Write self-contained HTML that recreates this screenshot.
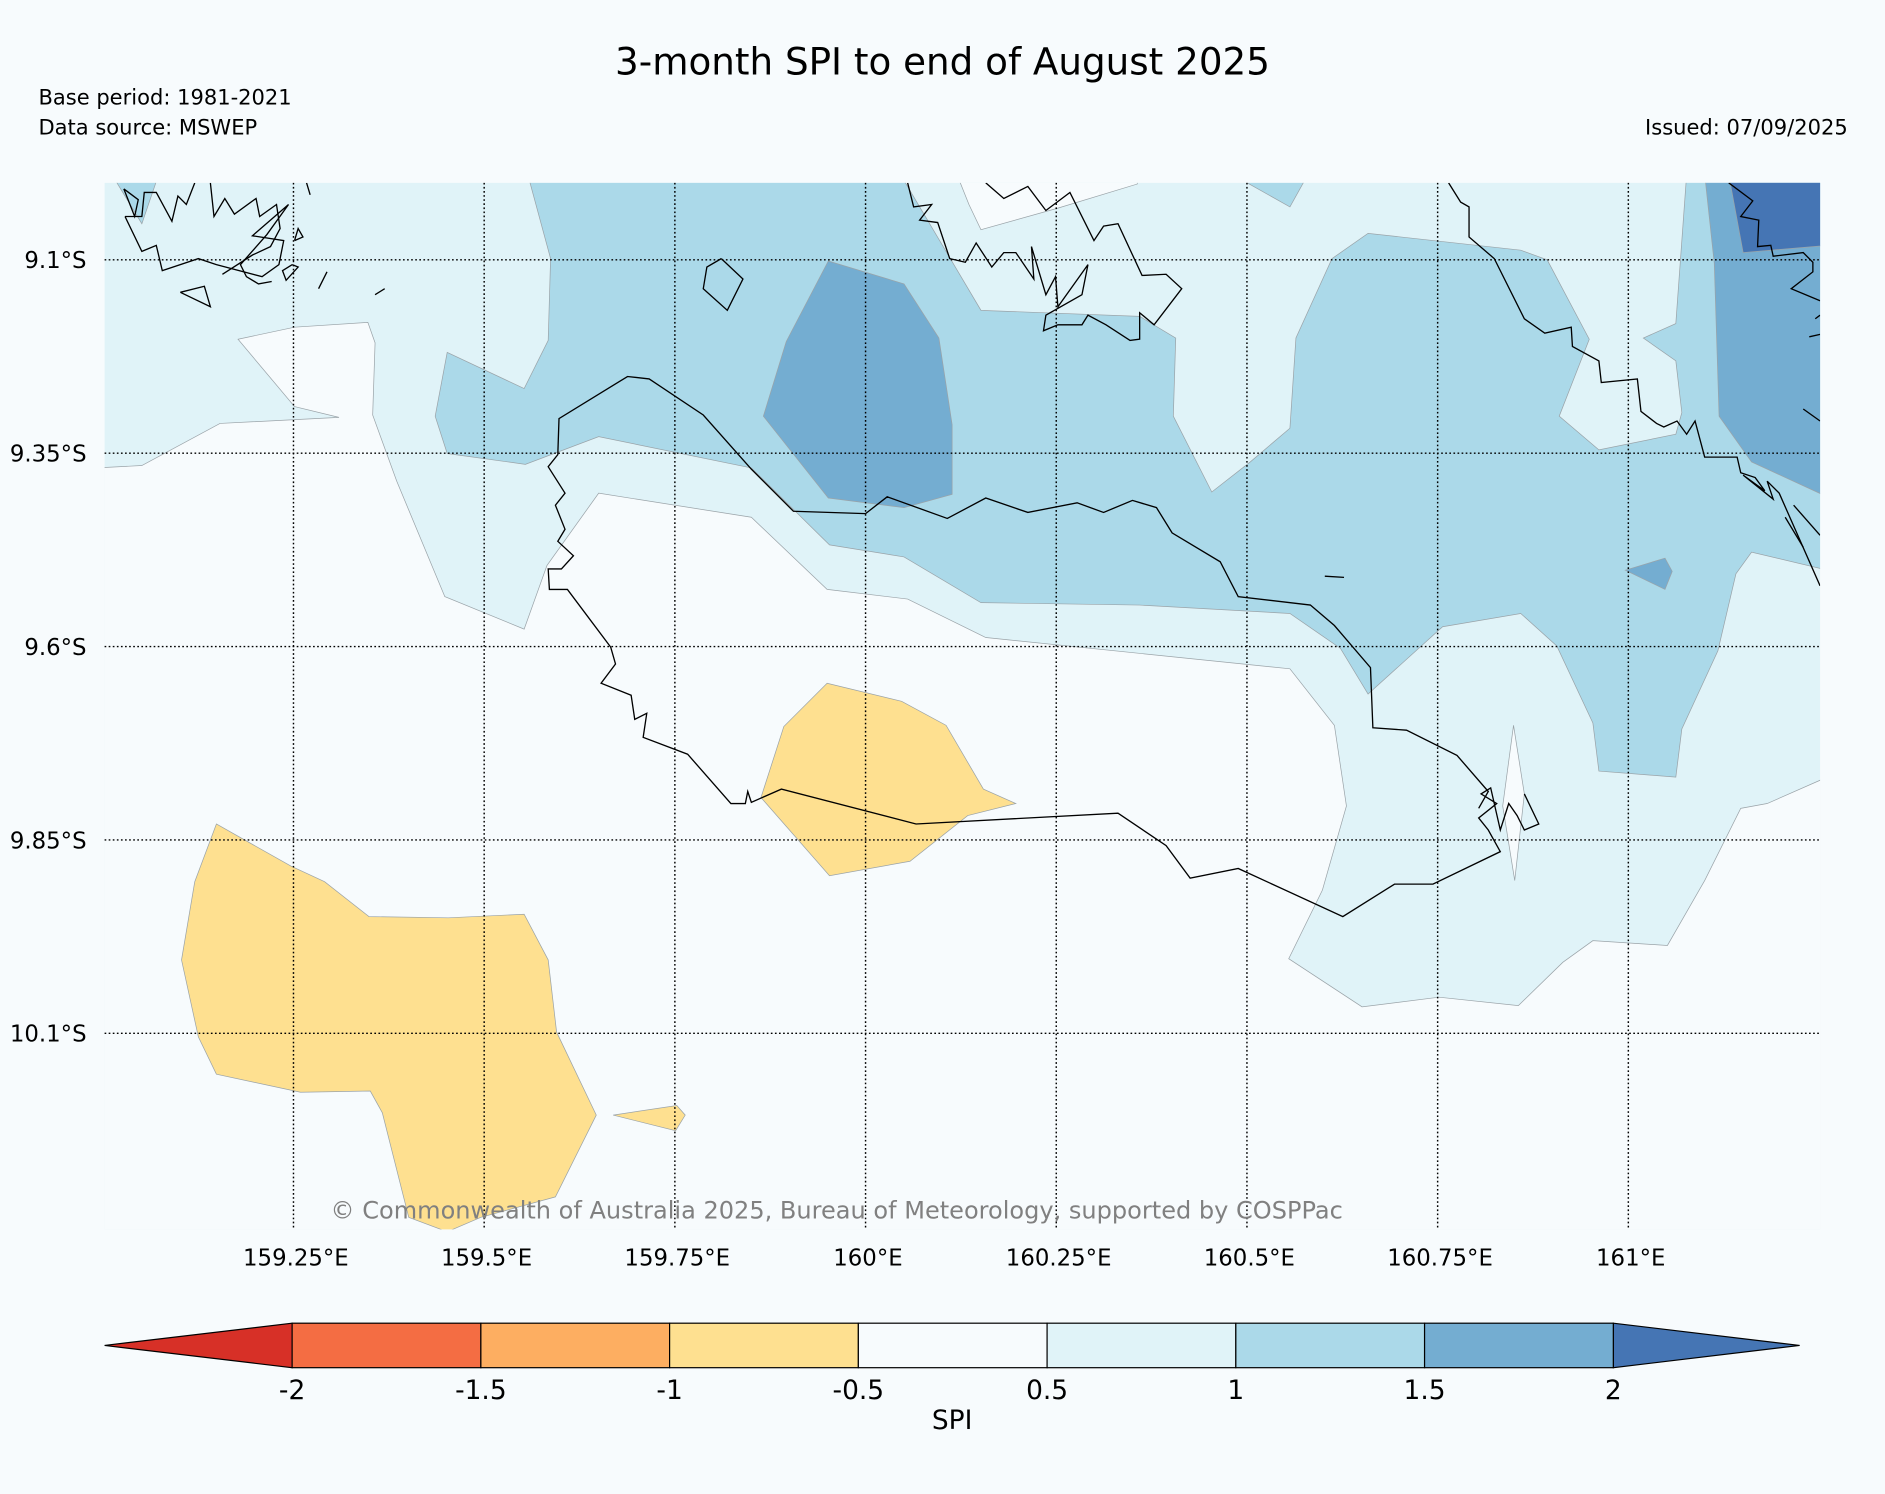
<!DOCTYPE html>
<html><head><meta charset="utf-8"><title>3-month SPI</title>
<style>
html,body{margin:0;padding:0;background:#f7fbfd;}
svg{display:block;font-family:"DejaVu Sans","Liberation Sans",sans-serif;}
</style></head>
<body>
<svg id="chart" width="1885" height="1494" viewBox="0 0 1568 1242" preserveAspectRatio="none" xmlns="http://www.w3.org/2000/svg">
<rect x="0" y="0" width="1568" height="1242" fill="#f7fbfd"/>
<text x="784" y="62" text-anchor="middle" font-size="31" fill="#000">3-month SPI to end of August 2025</text>
<text x="32" y="87" font-size="17.5" fill="#000">Base period: 1981-2021</text>
<text x="32" y="112" font-size="17.5" fill="#000">Data source: MSWEP</text>
<text x="1537" y="112" text-anchor="end" font-size="17.5" fill="#000">Issued: 07/09/2025</text>
<defs><clipPath id="mapclip"><rect x="87" y="152" width="1427" height="870"/></clipPath></defs>
<g id="map" clip-path="url(#mapclip)"></g>
<g id="grid"></g>
<g id="labels"></g>
<text x="696" y="1013" text-anchor="middle" font-size="20" fill="#808080">© Commonwealth of Australia 2025, Bureau of Meteorology, supported by COSPPac</text>
<g id="cbar"></g>
</svg>
<script>
// Colorbar data
const levels = [-2, -1.5, -1, -0.5, 0.5, 1, 1.5, 2];
const levelLabels = ["-2", "-1.5", "-1", "-0.5", "0.5", "1", "1.5", "2"];
const binColors = ["#f46d43", "#fdae61", "#fee090", "#f7fbfd", "#e0f3f8", "#abd9e9", "#74add1"];
const underColor = "#d73027";
const overColor = "#4575b4";
// Graticule data
const lonTicks = [159.25, 159.5, 159.75, 160, 160.25, 160.5, 160.75, 161];
const lonLabels = ["159.25°E", "159.5°E", "159.75°E", "160°E", "160.25°E", "160.5°E", "160.75°E", "161°E"];
const latTicks = [9.1, 9.35, 9.6, 9.85, 10.1];
const latLabels = ["9.1°S", "9.35°S", "9.6°S", "9.85°S", "10.1°S"];

const NS = "http://www.w3.org/2000/svg";
function xLon(lon){ return 720 + (lon - 160) * 634.5; }
function yLat(lat){ return 216 + (lat - 9.1) * 643; }
function mk(tag, attrs, parent){ const e = document.createElementNS(NS, tag); for (const k in attrs) e.setAttribute(k, attrs[k]); parent.appendChild(e); return e; }

const regionsLight = [[[80,145],[1520,145],[1520,1030],[80,1030]]];
const regionsWhite = [
 [[80,389],[118,387],[183,352],[282,347],[245,338],[198,282],[245,272],[306,268],[312,285],[310,345],[330,400],[370,496],[436,523],[455,470],[498,410],[625,430],[688,490],[755,498],[820,530],[1073,556],[1110,603],[1120,670],[1100,740],[1072,797],[1133,837],[1197,829],[1263,836],[1300,800],[1325,782],[1387,786],[1418,732],[1448,672],[1470,668],[1520,646],[1520,1030],[80,1030]],
 [[796,145],[946,145],[946,153],[880,173],[816,191],[806,170]]
];
const regionsMid = [
 [[93,145],[132,145],[118,186]],
 [[1025,145],[1088,145],[1073,172]],
 [[439,145],[749,145],[816,258],[948,263],[978,281],[976,346],[1008,409],[1040,384],[1073,356],[1078,281],[1108,215],[1138,194],[1265,208],[1287,216],[1322,282],[1297,346],[1330,374],[1394,361],[1399,343],[1394,300],[1367,281],[1394,269],[1403,145],[1520,145],[1520,474],[1457,459],[1444,477],[1429,541],[1399,606],[1394,646],[1330,641],[1325,601],[1295,537],[1265,510],[1200,521],[1138,577],[1115,539],[1073,510],[948,503],[816,501],[752,463],[690,453],[625,389],[498,363],[437,386],[372,377],[362,346],[372,293],[436,323],[456,283],[458,215]]
];
const regionsDark = [
 [[689,217],[752,236],[781,281],[792,353],[792,411],[752,422],[689,414],[635,346],[654,284]],
 [[1418,145],[1520,145],[1520,413],[1457,384],[1430,346],[1426,219]],
 [[1352,474],[1385,464],[1391,475],[1385,490]]
];
const regionsDarkest = [[[1438,145],[1520,145],[1520,204],[1450,210]]];
const regionsYellow = [
 [[688,568],[750,583],[787,603],[818,656],[845,668],[805,678],[757,716],[690,728],[633,663],[652,604]],
 [[180,685],[242,720],[270,733],[307,762],[373,763],[436,760],[456,798],[463,858],[496,927],[462,995],[400,1012],[372,1024],[340,1012],[318,925],[308,907],[250,908],[180,893],[165,862],[151,798],[162,733]],
 [[510,927],[563,919],[570,927],[562,940]]
];
const regionsWhiteSpike = [[[1259,603],[1268,660],[1260,732],[1250,670]]];

// Coastlines
const coasts = [
 [[720,427],[660,425],[625,390],[585,345],[540,315],[522,313],[465,348],[464,378],[456,388],[470,410],[462,420],[470,440],[464,450],[477,462],[467,473],[456,473],[457,490],[472,490],[508,538],[512,552],[500,568],[525,578],[528,598],[538,593],[535,613],[572,627],[608,668],[620,668],[622,658],[625,667],[650,656],[762,685],[930,676],[970,703],[990,730],[1030,722],[1117,762],[1160,735],[1192,735],[1248,708],[1238,690],[1230,680],[1245,668],[1232,660],[1240,655],[1248,690],[1255,668],[1262,678],[1268,690],[1280,685],[1268,660]],
 [[720,427],[738,413],[788,431],[820,414],[855,426],[896,418],[918,426],[942,416],[962,422],[975,443],[1015,467],[1030,496],[1090,503],[1110,520],[1140,555],[1142,605],[1170,607],[1212,628],[1238,658],[1230,672]],
 [[1205,152],[1215,168],[1222,172],[1222,197],[1243,215],[1268,265],[1285,277],[1307,272],[1308,288],[1330,300],[1332,318],[1362,315],[1365,342],[1378,352],[1384,355],[1395,350],[1403,361],[1410,350],[1418,380],[1445,380],[1448,393],[1460,397],[1468,408],[1450,395],[1475,415],[1470,400],[1480,410],[1514,487]],
 [[1438,152],[1458,167],[1448,180],[1463,183],[1462,205],[1473,204],[1475,213],[1500,210],[1508,218],[1508,226],[1490,240],[1514,250]],
 [[755,152],[760,172],[775,170],[765,183],[780,185],[790,215],[803,218],[812,202],[825,222],[835,210],[845,210],[860,232],[858,205],[870,245],[878,230],[880,255],[905,220],[900,245],[870,262],[868,275],[880,270],[900,270],[905,262],[920,270],[940,283],[948,282],[948,260],[960,270],[983,240],[970,228],[950,229],[930,186],[918,188],[910,200],[890,160],[870,175],[855,155],[835,165],[820,152]],
 [[600,215],[618,232],[605,258],[585,240],[588,222],[600,215]],
 [[104,180],[118,209],[130,204],[135,225],[165,215],[180,220],[218,230],[232,220],[236,200],[210,196],[240,170],[222,195],[200,220],[205,230],[215,236],[226,234]],
 [[104,180],[118,180],[120,160],[130,160],[143,184],[148,163],[155,170],[162,152]],
 [[175,152],[178,180],[187,165],[195,178],[213,165],[216,180],[230,170],[233,190],[225,205],[210,212],[185,228]],
 [[103,157],[115,166],[112,180],[103,157]],
 [[150,243],[170,238],[175,255],[150,243]],
 [[245,200],[252,197],[248,190],[245,200]],
 [[243,220],[248,222],[238,233],[235,225],[243,220]],
 [[272,226],[265,240]],
 [[312,245],[320,240]],
 [[1102,479],[1118,480]],
 [[255,152],[258,162]],
 [[1492,420],[1514,445]],
 [[1485,430],[1500,455]],
 [[1500,340],[1514,350]],
 [[1505,280],[1514,278]],
 [[1510,265],[1514,262]]
];

const map = document.getElementById('map');
function drawRegions(list, color, name, stroke){
  list.forEach((poly, i) => {
    const p = mk('polygon', {points: poly.map(q => q.join(',')).join(' '), fill: color, stroke: stroke ? '#9aa3a8' : 'none', 'stroke-width': '0.6'}, map);
    
    
  });
}
drawRegions(regionsLight, binColors[4], 'spi-0.5-1-region', false);
drawRegions(regionsWhite, binColors[3], 'spi-near-normal-region', true);
drawRegions(regionsMid, binColors[5], 'spi-1-1.5-region', true);
drawRegions(regionsDark, binColors[6], 'spi-1.5-2-region', true);
drawRegions(regionsDarkest, overColor, 'spi-above-2-region', true);
drawRegions(regionsYellow, binColors[2], 'spi-minus1-minus0.5-region', true);
drawRegions(regionsWhiteSpike, binColors[3], 'spi-near-normal-spike', true);
coasts.forEach((line, i) => {
  const p = mk('polyline', {points: line.map(q => q.join(',')).join(' '), fill: 'none', stroke: '#000', 'stroke-width': '1.1', 'stroke-linejoin': 'miter'}, map);
  
  
});

const grid = document.getElementById('grid');
const labels = document.getElementById('labels');
lonTicks.forEach((lon, i) => {
  const x = xLon(lon);
  const l = mk('line', {x1: x, y1: 152, x2: x, y2: 1022, stroke: '#000', 'stroke-width': '1.2', 'stroke-dasharray': '1.4,2'}, grid);
  
  
  const t = mk('text', {x: x + 2, y: 1052, 'text-anchor': 'middle', 'font-size': '19', fill: '#000'}, labels);
  t.textContent = lonLabels[i];
  
  
});
latTicks.forEach((lat, i) => {
  const y = yLat(lat);
  const l = mk('line', {x1: 87, y1: y, x2: 1514, y2: y, stroke: '#000', 'stroke-width': '1.2', 'stroke-dasharray': '1.4,2'}, grid);
  
  
  const t = mk('text', {x: 72, y: y + 7, 'text-anchor': 'end', 'font-size': '19', fill: '#000'}, labels);
  t.textContent = latLabels[i];
  
  
});

// Colorbar
const cbar = document.getElementById('cbar');
const cx0 = 243, cw = 157, cy0 = 1100, ch = 37;
function xLevel(i){ return cx0 + i * cw; }
const tri1 = mk('polygon', {points: `${xLevel(0)},${cy0} 87,${cy0 + ch/2} ${xLevel(0)},${cy0 + ch}`, fill: underColor, stroke: '#000', 'stroke-width': '1'}, cbar);


const last = xLevel(levels.length - 1);
const tri2 = mk('polygon', {points: `${last},${cy0} 1497,${cy0 + ch/2} ${last},${cy0 + ch}`, fill: overColor, stroke: '#000', 'stroke-width': '1'}, cbar);


binColors.forEach((c, i) => {
  const r = mk('rect', {x: xLevel(i), y: cy0, width: cw, height: ch, fill: c, stroke: '#000', 'stroke-width': '1'}, cbar);
  
  
});
levels.forEach((v, i) => {
  const t = mk('text', {x: xLevel(i), y: 1163, 'text-anchor': 'middle', 'font-size': '22', fill: '#000'}, cbar);
  t.textContent = levelLabels[i];
  
  
});
const st = mk('text', {x: 792, y: 1188, 'text-anchor': 'middle', 'font-size': '22', fill: '#000'}, cbar);
st.textContent = 'SPI';


</script>
</body></html>
